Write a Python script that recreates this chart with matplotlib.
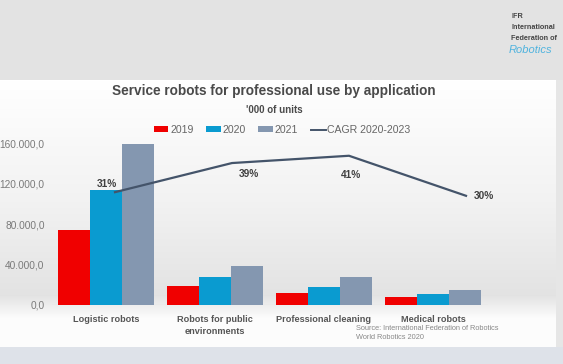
import numpy as np
import matplotlib
matplotlib.use("Agg")
import matplotlib.pyplot as plt
from matplotlib.patches import Patch
from matplotlib.lines import Line2D

plt.rcParams['font.family'] = ['Liberation Sans', 'DejaVu Sans']

categories = ["Logistic robots", "Robots for public\nenvironments", "Professional cleaning", "Medical robots"]
series_names = ["2019", "2020", "2021"]
values_2019 = [74000, 19000, 12200, 8200]
values_2020 = [113500, 27300, 18000, 10900]
values_2021 = [159000, 38500, 27300, 14800]
cagr = [31, 39, 41, 30]
cagr_labels = ["31%", "39%", "41%", "30%"]
yticks = [0, 40000, 80000, 120000, 160000]

colors = ["#f00000", "#0a9bd0", "#8497b0"]
line_color = "#44546a"

W, H = 563, 364
fig = plt.figure(figsize=(W / 100, H / 100), dpi=100)

# background image
bg = fig.add_axes([0, 0, 1, 1])
img = np.zeros((H, W, 3))
top = np.array([0xe3, 0xe3, 0xe3]) / 255
img[:, :] = top
panel_top, panel_bot = 80, 347
for y in range(panel_top, panel_bot):
    t = y
    if t < 200:
        v = 1.0 - (t - panel_top) / (200 - panel_top) * 0.05
    elif t < 295:
        v = 0.95 - (t - 200) / 95 * 0.06
    elif t < 318:
        v = 0.89 + (t - 295) / 23 * 0.10
    else:
        v = 0.99
    img[y, :556] = [v, v, v]
img[panel_top:panel_bot, 556:] = np.array([0xe6, 0xe6, 0xe6]) / 255
img[panel_bot:, :] = np.array([0xde, 0xe2, 0xe9]) / 255
bg.imshow(img, aspect='auto', extent=[0, 1, 0, 1], interpolation='bilinear')
bg.axis('off')

# main axes
L, R = 51.5, 487.5
T, B = 123, 305
ax = fig.add_axes([L / W, (H - B) / H, (R - L) / W, (B - T) / H])
ax.patch.set_alpha(0)
x = np.arange(len(categories))
bw = 0.295
for i, (vals, c) in enumerate(zip([values_2019, values_2020, values_2021], colors)):
    ax.bar(x + (i - 1) * bw, vals, width=bw, color=c, edgecolor='none', zorder=2)
ax.set_xlim(-0.5, len(categories) - 0.5)
ax.set_ylim(0, 180000)
ax.set_yticks(yticks)
ax.set_yticklabels([f"{v:,.1f}".replace(",", "X").replace(".", ",").replace("X", ".") for v in yticks],
                   fontsize=7.3, color="#7a7a7a")
ax.set_xticks(x)
ax.set_xticklabels(categories, fontsize=6.6, fontweight='bold', color="#555555", linespacing=1.4)
ax.tick_params(length=0, pad=5)
ax.tick_params(axis='x', pad=7)
for s in ax.spines.values():
    s.set_visible(False)
ax.axhline(0, color="#d0d0d0", lw=0.8, zorder=1)

# line axes (secondary)
L2, R2 = 56.5, 524.5
ax2 = fig.add_axes([L2 / W, (H - B) / H, (R2 - L2) / W, (B - T) / H])
ax2.patch.set_alpha(0)
ax2.set_xlim(-0.5, len(cagr) - 0.5)
ax2.set_ylim(0, 50)
ax2.plot(np.arange(len(cagr)), cagr, color=line_color, lw=1.6, zorder=3)
ax2.axis('off')
offsets = [(-6, 6), (12, -8), (1.5, -14), (13, 0)]
for i, (v, lab) in enumerate(zip(cagr, cagr_labels)):
    ax2.annotate(lab, (i, v), xytext=offsets[i], textcoords='offset points',
                 ha='center', va='center', fontsize=7.3, fontweight='bold', color="#404040")

# titles
fig.text(274 / W, 1 - 91 / H, "Service robots for professional use by application",
         ha='center', va='center', fontsize=9.8, fontweight='bold', color="#4a4a4a")
fig.text(274 / W, 1 - 110 / H, "'000 of units", ha='center', va='center',
         fontsize=7, fontweight='bold', color="#4a4a4a")

# legend
handles = [Patch(facecolor=c, edgecolor='none') for c in colors]
handles.append(Line2D([0], [0], color=line_color, lw=1.4))
fig.legend(handles, series_names + ["CAGR 2020-2023"], loc='center',
           bbox_to_anchor=(282 / W, 1 - 130 / H), ncol=4, frameon=False,
           fontsize=7.6, labelcolor="#666666", handlelength=1.4, handleheight=0.45,
           handletextpad=0.15, columnspacing=1.2, borderpad=0)

# source
fig.text(356 / W, 1 - 333 / H, "Source: International Federation of Robotics\nWorld Robotics 2020",
         ha='left', va='center', fontsize=5.3, color="#888888", linespacing=1.5)

# logo
fig.text(511 / W, 1 - 17 / H, "IFR", fontsize=5.2, fontweight='bold', color="#444444", va='center')
fig.text(511 / W, 1 - 27.5 / H, "International", fontsize=5.2, fontweight='bold', color="#444444", va='center')
fig.text(511 / W, 1 - 38 / H, "Federation of", fontsize=5.2, fontweight='bold', color="#444444", va='center')
fig.text(509 / W, 1 - 50 / H, "Robotics", fontsize=8, style='italic', color="#4fb3de", va='center')

fig.savefig("out.png", dpi=100)
